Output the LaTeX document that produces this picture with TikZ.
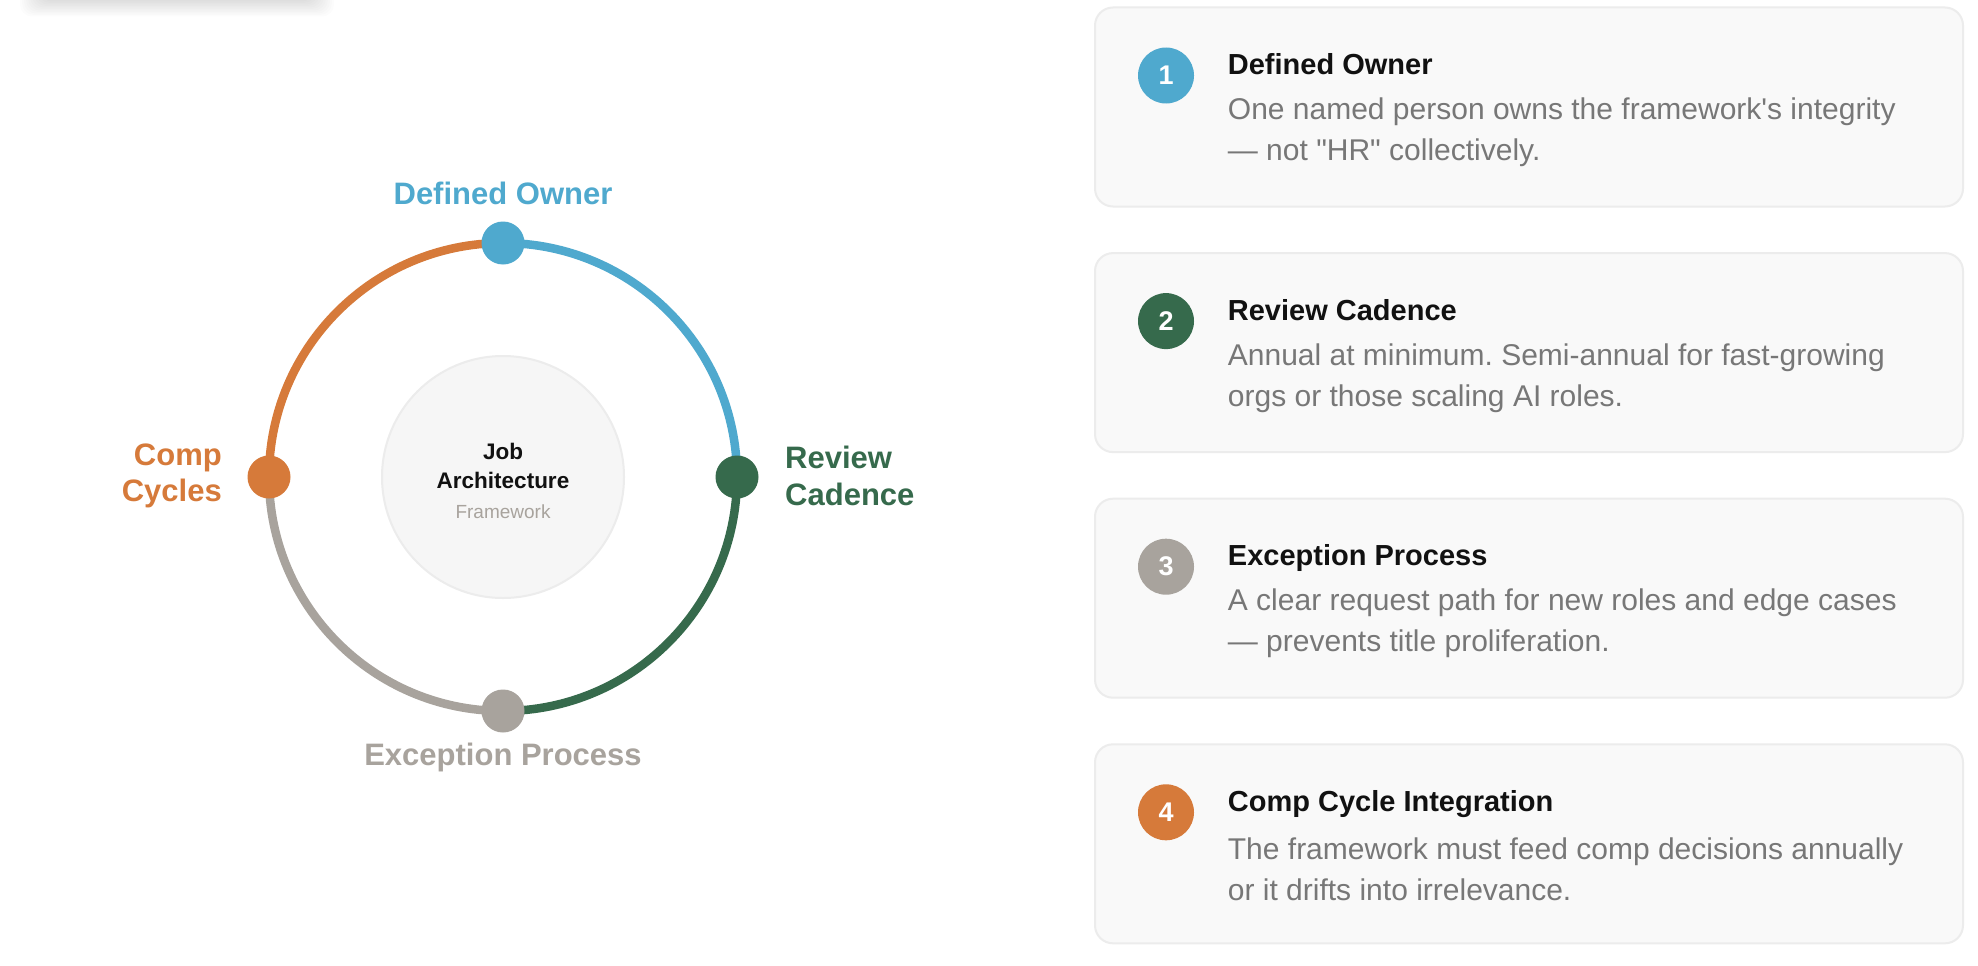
\documentclass[tikz,border=0pt]{standalone}
\usepackage{fontspec}
\setmainfont{Liberation Sans}
\usetikzlibrary{calc}
\frenchspacing
\definecolor{owner}{HTML}{4FA9CE}
\definecolor{cadence}{HTML}{366A4C}
\definecolor{exception}{HTML}{A8A39D}
\definecolor{comp}{HTML}{D67A3A}
\definecolor{cardfill}{HTML}{F9F9F9}
\definecolor{cardline}{HTML}{ECECEC}
\definecolor{hubfill}{HTML}{F6F6F6}
\definecolor{bodytext}{HTML}{777777}
\definecolor{ink}{HTML}{111111}
\tikzset{ringarc/.style={
    line width=8.5pt}}
\tikzset{ringdot/.style={
    circle,
    inner sep=0pt,
    minimum size=43pt}}
\tikzset{ringlabel/.style={
    inner sep=0pt,
    font=\bfseries\fontsize{31}{36.5}\selectfont}}
\tikzset{hubnode/.style={
    circle,
    fill=hubfill,
    draw=cardline,
    line width=2pt,
    minimum size=242pt,
    inner sep=0pt}}
\tikzset{cardbox/.style={
    rectangle,
    rounded corners=18pt,
    fill=cardfill,
    draw=cardline,
    line width=2pt,
    minimum width=868pt,
    minimum height=199pt,
    inner sep=0pt}}
\tikzset{cardbadge/.style={
    circle,
    inner sep=0pt,
    minimum size=56pt,
    text=white,
    font=\bfseries\fontsize{27}{27}\selectfont}}
\tikzset{cardtitle/.style={
    anchor=base west,
    inner sep=0pt,
    text=ink,
    font=\bfseries\fontsize{29}{34}\selectfont}}
\tikzset{cardtext/.style={
    anchor=west,
    align=left,
    inner sep=0pt,
    text=bodytext,
    font=\fontsize{30}{41}\selectfont}}

\begin{document}
\begin{tikzpicture}[x=1pt,y=-1pt]
\useasboundingbox[fill=white] (0,0) rectangle (1978,966);

% shadow of the box above the picture
\begin{scope}
\clip (0,0) rectangle (1978,966);
\foreach \i in {0,...,11}
  \fill[black,opacity=0.012,rounded corners=12pt] (42-2*\i,-60) rectangle (312+2*\i,1.5*\i);
\end{scope}

	\coordinate (O) at (503,477);
\coordinate (ptop) at (503,243);
\coordinate (pright) at (737,477);
\coordinate (pbottom) at (503,711);
\coordinate (pleft) at (269,477);

\node[hubnode] (hub) at (O) {};
\node[align=center,inner sep=0pt,text=ink,font=\bfseries\fontsize{22.5}{29}\selectfont] (hubtext) at (503,481)
  {Job\\Architecture\\[1pt]{\mdseries\fontsize{19}{29}\selectfont\color{exception}Framework}};

\path[draw=owner,ringarc] (ptop) arc[start angle=-90,end angle=0,radius=234];
\path[draw=cadence,ringarc] (pright) arc[start angle=0,end angle=90,radius=234];
\path[draw=exception,ringarc] (pbottom) arc[start angle=90,end angle=180,radius=234];
\path[draw=comp,ringarc] (pleft) arc[start angle=180,end angle=270,radius=234];

	\node[ringdot,fill=owner] (downer) at (ptop) {};
	\node[ringdot,fill=cadence] (dcadence) at (pright) {};
	\node[ringdot,fill=exception] (dexception) at (pbottom) {};
	\node[ringdot,fill=comp] (dcomp) at (pleft) {};

\node[ringlabel,text=owner] (lowner) at (503,193) {Defined Owner};
\node[ringlabel,text=cadence,anchor=west,align=left] (lcadence) at (785,476) {Review\\Cadence};
\node[ringlabel,text=exception,anchor=base] (lexception) at (503,765) {Exception Process};
\node[ringlabel,text=comp,anchor=east,align=right] (lcomp) at (222,476) {Comp\\Cycles};

% cards on the right
\node[cardbox] (card1) at (1529,107) {};
\node[cardbox] (card2) at (1529,352.6) {};
\node[cardbox] (card3) at (1529,598.2) {};
\node[cardbox] (card4) at (1529,843.8) {};

	\node[cardbadge,fill=owner] (badge1) at ([xshift=72pt,yshift=31.5pt]card1.west) {1};
	\node[cardtitle] (title1) at ([xshift=133.7pt,yshift=32.4pt]card1.west) {Defined Owner};
	\node[cardtext] (text1) at ([xshift=133.7pt,yshift=-25.5pt]card1.west)
  {One named person owns the framework\textquotesingle s integrity\\— not \textquotedbl HR\textquotedbl{} collectively.};

	\node[cardbadge,fill=cadence] (badge2) at ([xshift=72pt,yshift=31.5pt]card2.west) {2};
	\node[cardtitle] (title2) at ([xshift=133.7pt,yshift=32.4pt]card2.west) {Review Cadence};
	\node[cardtext] (text2) at ([xshift=133.7pt,yshift=-25.5pt]card2.west)
  {Annual at minimum. Semi-annual for fast-growing\\orgs or those scaling AI roles.};

	\node[cardbadge,fill=exception] (badge3) at ([xshift=72pt,yshift=31.5pt]card3.west) {3};
	\node[cardtitle] (title3) at ([xshift=133.7pt,yshift=32.4pt]card3.west) {Exception Process};
	\node[cardtext] (text3) at ([xshift=133.7pt,yshift=-25.5pt]card3.west)
  {A clear request path for new roles and edge cases\\— prevents title proliferation.};

	\node[cardbadge,fill=comp] (badge4) at ([xshift=72pt,yshift=31.5pt]card4.west) {4};
	\node[cardtitle] (title4) at ([xshift=133.7pt,yshift=32.4pt]card4.west) {Comp Cycle Integration};
	\node[cardtext] (text4) at ([xshift=133.7pt,yshift=-25.5pt]card4.west)
  {The framework must feed comp decisions annually\\or it drifts into irrelevance.};

\end{tikzpicture}
\end{document}
